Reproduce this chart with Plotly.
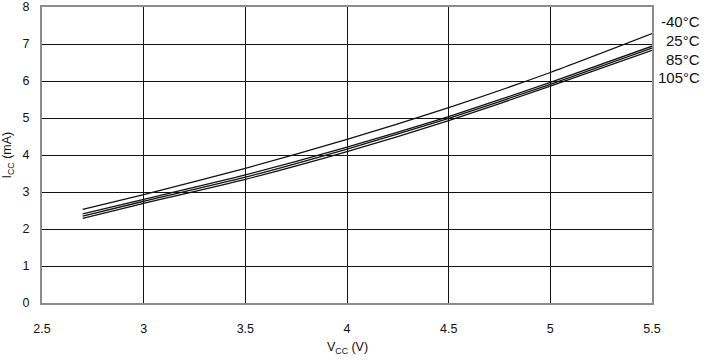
import plotly.graph_objects as go

vcc = [2.7, 3.0, 3.5, 4.0, 4.5, 5.0, 5.5]
icc_m40 = [2.53, 2.93, 3.64, 4.42, 5.28, 6.23, 7.28]
icc_25 = [2.41, 2.80, 3.46, 4.21, 5.04, 5.96, 6.94]
icc_85 = [2.35, 2.75, 3.40, 4.16, 4.99, 5.91, 6.89]
icc_105 = [2.29, 2.69, 3.34, 4.09, 4.93, 5.86, 6.83]
series_names = ["-40°C", "25°C", "85°C", "105°C"]
label_y = [7.61, 7.10, 6.58, 6.10]

x_ticks = [2.5, 3, 3.5, 4, 4.5, 5, 5.5]
x_ticktext = ["2.5", "3", "3.5", "4", "4.5", "5", "5.5"]
y_ticks = [0, 1, 2, 3, 4, 5, 6, 7, 8]

FONT = "Liberation Sans, Arial, sans-serif"

fig = go.Figure()
for name, ys in zip(series_names, [icc_m40, icc_25, icc_85, icc_105]):
    fig.add_trace(go.Scatter(x=vcc, y=ys, mode="lines", name=name, hoverinfo="skip",
                             line=dict(color="#111111", width=1.3, shape="spline", smoothing=0.6)))

for name, ly in zip(series_names, label_y):
    fig.add_annotation(x=1.082, xref="paper", y=ly, yref="y", text=name,
                       showarrow=False, xanchor="right", yanchor="middle",
                       font=dict(family=FONT, size=15, color="#111111"))

fig.add_annotation(x=0.5, xref="paper", y=-0.153, yref="paper",
                   text="V<sub>CC</sub> (V)", showarrow=False,
                   xanchor="center", yanchor="middle",
                   font=dict(family=FONT, size=12.5, color="#111111"))
fig.add_annotation(x=-0.055, xref="paper", y=0.5, yref="paper",
                   text="I<sub>CC</sub> (mA)", showarrow=False, textangle=-90,
                   xanchor="center", yanchor="middle",
                   font=dict(family=FONT, size=12.5, color="#111111"))

fig.update_layout(
    width=706, height=360,
    margin=dict(l=42, r=54, t=7, b=57, autoexpand=False),
    paper_bgcolor="white", plot_bgcolor="white",
    showlegend=False,
    font=dict(family=FONT, size=12.5, color="#111111"),
    xaxis=dict(range=[2.5, 5.5], tickvals=x_ticks, ticktext=x_ticktext,
               showgrid=True, gridcolor="#111111", gridwidth=1, automargin=False,
               zeroline=False, showline=True, mirror=True,
               linecolor="#8c8c8c", linewidth=2, ticks="", ticklabelstandoff=13),
    yaxis=dict(range=[0, 8], tickvals=y_ticks,
               showgrid=True, gridcolor="#111111", gridwidth=1, automargin=False,
               zeroline=False, showline=True, mirror=True,
               linecolor="#8c8c8c", linewidth=2, ticks="", ticklabelstandoff=8),
)

fig.write_html("out.html", config={"displayModeBar": False, "staticPlot": True},
               post_script="document.body.style.margin='0';document.body.style.overflow='hidden';")
